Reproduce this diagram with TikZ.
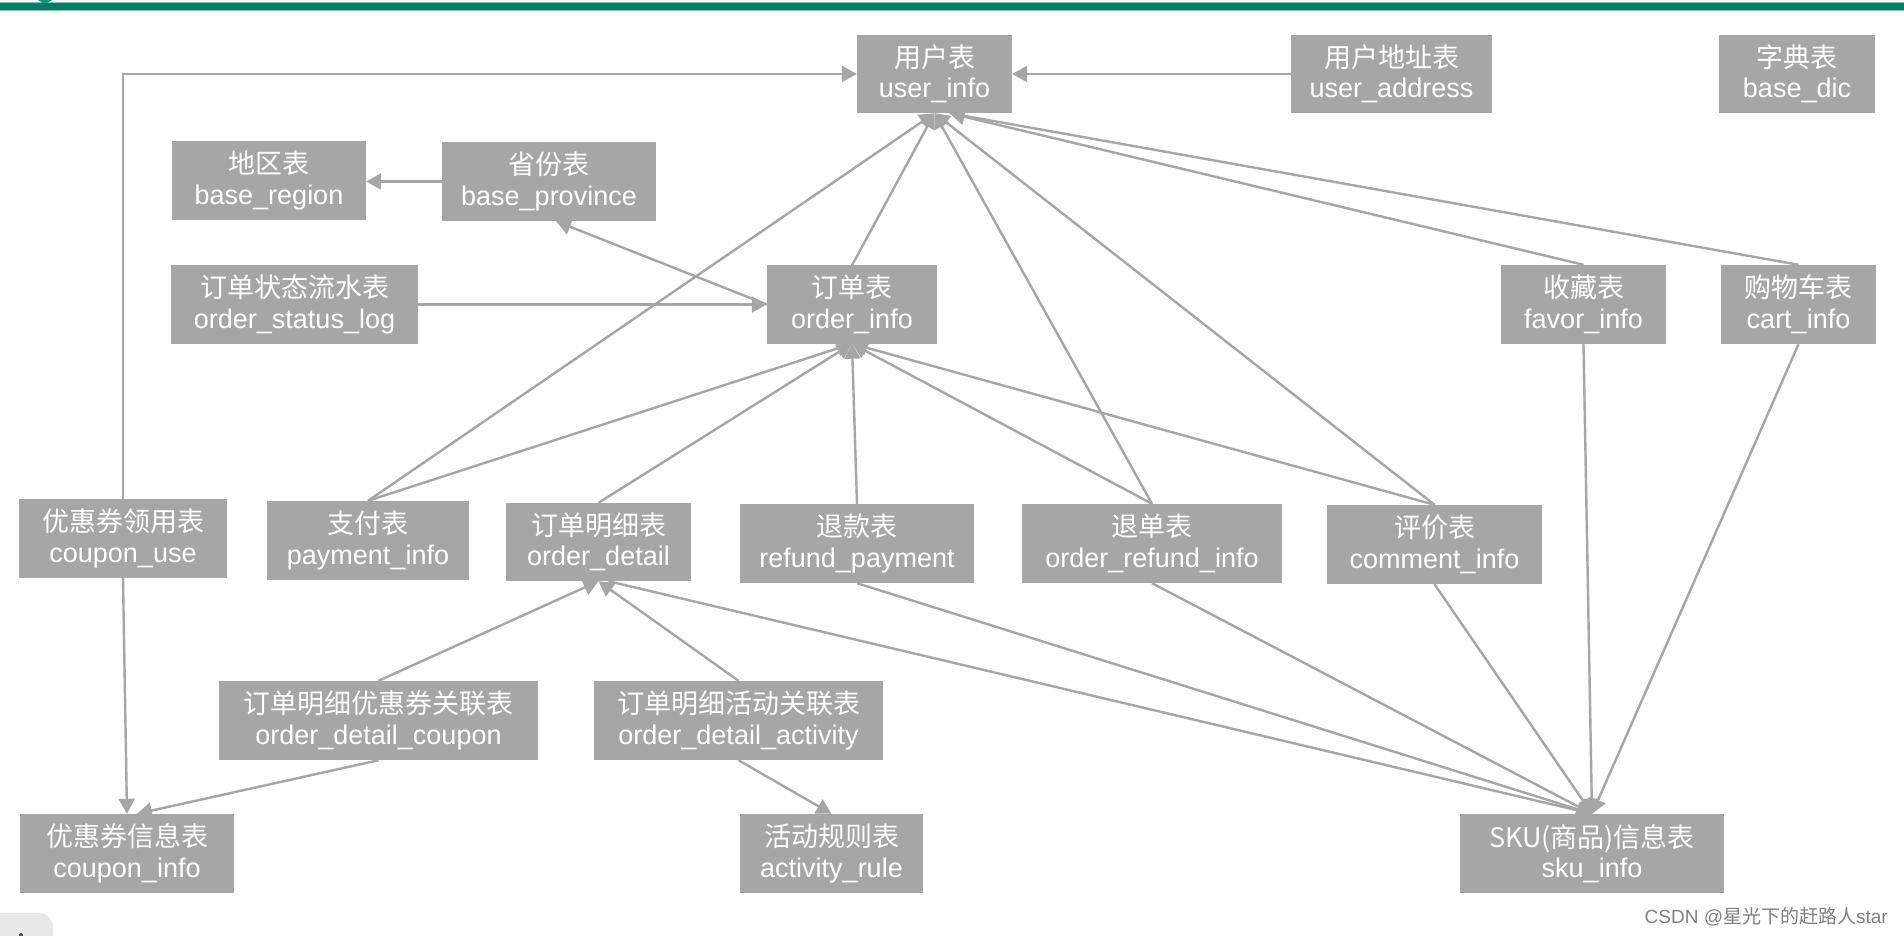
\documentclass[tikz,border=0pt]{standalone}
\usepackage{fontspec}
\setmainfont{Liberation Sans}
\newfontfamily\cjk{Noto Sans CJK SC}
\usetikzlibrary{arrows.meta}
\definecolor{boxgray}{RGB}{166,166,166}
\definecolor{linegray}{RGB}{166,166,166}
\definecolor{bargreen}{RGB}{8,124,104}
\definecolor{barlight}{RGB}{130,195,180}
\definecolor{wmgray}{RGB}{128,128,128}
\definecolor{cornergray}{RGB}{232,232,232}
\begin{document}
\begin{tikzpicture}[x=1pt,y=-1pt,
  tbl/.style={fill=boxgray, text=white, inner sep=0pt, align=center, font=\fontsize{27}{30.5}\selectfont},
  con/.style={draw=linegray, line width=2.4pt, -{Triangle[length=15pt,width=16pt]}},
]
\useasboundingbox (0,0) rectangle (1904,936);
\fill[white] (0,0) rectangle (1904,936);
% top bar
\fill[barlight] (0,2.5) rectangle (1904,11.5);
\fill[bargreen] (0,3.5) rectangle (1904,10.5);
\fill[bargreen!80!cyan] (38,0) -- (52,0) -- (47,3) -- (43,3) -- cycle;
% bottom-left corner widget
\fill[cornergray, rounded corners=14pt] (-20,913) rectangle (53,960);
\fill[black!70] (21,935) circle (2);

% tables
\node[tbl, minimum width=155pt, minimum height=78pt] (ui) at (934.5,74) {{\cjk 用户表}\\user\_info};
\node[tbl, minimum width=201pt, minimum height=78pt] (ua) at (1391.5,74) {{\cjk 用户地址表}\\user\_address};
\node[tbl, minimum width=156pt, minimum height=78pt] (dic) at (1797,74) {{\cjk 字典表}\\base\_dic};
\node[tbl, minimum width=194pt, minimum height=79pt] (region) at (269,180.5) {{\cjk 地区表}\\base\_region};
\node[tbl, minimum width=214pt, minimum height=79pt] (province) at (549,181.5) {{\cjk 省份表}\\base\_province};
\node[tbl, minimum width=247pt, minimum height=79pt] (osl) at (294.5,304.5) {{\cjk 订单状态流水表}\\order\_status\_log};
\node[tbl, minimum width=170pt, minimum height=78pt] (oi) at (852,304.5) {{\cjk 订单表}\\order\_info};
\node[tbl, minimum width=165pt, minimum height=79pt] (favor) at (1583.5,304.5) {{\cjk 收藏表}\\favor\_info};
\node[tbl, minimum width=155pt, minimum height=79pt] (cart) at (1798.5,304.5) {{\cjk 购物车表}\\cart\_info};
\node[tbl, minimum width=208pt, minimum height=79pt] (cuse) at (123,538.5) {{\cjk 优惠券领用表}\\coupon\_use};
\node[tbl, minimum width=202pt, minimum height=79pt] (pay) at (368,540.5) {{\cjk 支付表}\\payment\_info};
\node[tbl, minimum width=185pt, minimum height=78pt] (od) at (598.5,542) {{\cjk 订单明细表}\\order\_detail};
\node[tbl, minimum width=234pt, minimum height=79pt] (rp) at (857,543.5) {{\cjk 退款表}\\refund\_payment};
\node[tbl, minimum width=260pt, minimum height=79pt] (ori) at (1152,543.5) {{\cjk 退单表}\\order\_refund\_info};
\node[tbl, minimum width=215pt, minimum height=79pt] (ci) at (1434.5,544.5) {{\cjk 评价表}\\comment\_info};
\node[tbl, minimum width=319pt, minimum height=79pt] (odc) at (378.5,720.5) {{\cjk 订单明细优惠券关联表}\\order\_detail\_coupon};
\node[tbl, minimum width=289pt, minimum height=79pt] (oda) at (738.5,720.5) {{\cjk 订单明细活动关联表}\\order\_detail\_activity};
\node[tbl, minimum width=214pt, minimum height=79pt] (cinfo) at (127,853.5) {{\cjk 优惠券信息表}\\coupon\_info};
\node[tbl, minimum width=183pt, minimum height=79pt] (ar) at (831.5,853.5) {{\cjk 活动规则表}\\activity\_rule};
\node[tbl, minimum width=264pt, minimum height=79pt] (sku) at (1592,853.5) {{\cjk SKU(商品)信息表}\\sku\_info};

% connectors
\draw[con] (ua.west) -- (ui.east);
\draw[con] (cuse.north) |- (ui.west);
\draw[con] (cuse.south) -- (cinfo.north);
\draw[con] (province.west) -- (province.west -| region.east);
\draw[con] (osl.east) -- (oi.west);
\draw[con] (oi.west) -- ([xshift=7pt]province.south);
\draw[con] (oi.north) -- (ui.south);
\draw[con] (pay.north) -- (ui.south);
\draw[con] (pay.north) -- (oi.south);
\draw[con] (od.north) -- (oi.south);
\draw[con] (rp.north) -- (oi.south);
\draw[con] (ori.north) -- (oi.south);
\draw[con] (ci.north) -- (oi.south);
\draw[con] (ori.north) -- (ui.south);
\draw[con] (ci.north) -- (ui.south);
\draw[con] (favor.north) -- ([xshift=15pt]ui.south);
\draw[con] (cart.north) -- ([xshift=15pt]ui.south);
\draw[con] (favor.south) -- (sku.north);
\draw[con] (cart.south) -- (sku.north);
\draw[con] (ci.south) -- (sku.north);
\draw[con] (ori.south) -- (sku.north);
\draw[con] (rp.south) -- (sku.north);
\draw[con] ([xshift=10pt]od.south) -- (sku.north);
\draw[con] (odc.north) -- (od.south);
\draw[con] (oda.north) -- (od.south);
\draw[con] (odc.south) -- ([xshift=10pt]cinfo.north);
\draw[con] (oda.south) -- (ar.north);

% watermark
\node[anchor=east, text=wmgray, inner sep=0pt, font=\fontsize{19}{22}\selectfont] (wm) at (1888,917) {CSDN @{\cjk 星光下的赶路人}star};
\end{tikzpicture}
\end{document}
